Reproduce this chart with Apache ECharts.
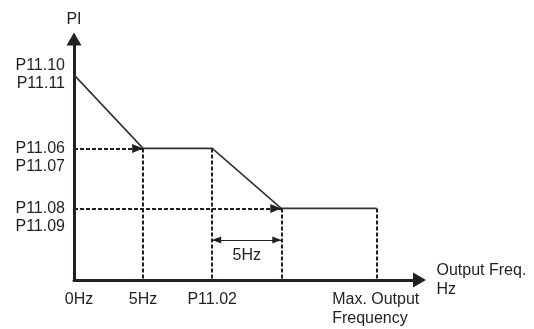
<!DOCTYPE html>
<html>
<head>
<meta charset="utf-8">
<script src="https://cdn.jsdelivr.net/npm/echarts@6/dist/echarts.min.js"></script>
<style>
  html, body { margin: 0; padding: 0; background: #fff; }
  #chart { width: 534px; height: 329px; }
</style>
</head>
<body>
<div id="chart"></div>
<script>
// tick positions (abstract units) and their labels
const freqTicks = [0, 5, 10, 21.9];
const freqLabels = ['0Hz', '5Hz', 'P11.02', 'Max. Output\nFrequency'];
const piTicks = [85.1, 54.6, 29.7];
const piLabels = ['P11.10\nP11.11', '\nP11.06\nP11.07', '\nP11.08\nP11.09'];

// the PI curve
const curveFreq = [0, 5, 10, 15, 21.9];
const curvePI = [85.1, 54.6, 54.6, 29.7, 29.7];

// 5Hz span marker
const spanFrom = 10, spanTo = 15, spanLevel = 16.6, spanText = '5Hz';

const ink = '#231f20';
const font = 'Liberation Sans, Arial, sans-serif';

var chart = echarts.init(document.getElementById('chart'));

var dotted = { color: ink, width: 2, type: [4, 2] };

// guide lines built from the curve corners
var guides = [];
// horizontal dotted arrows from the PI axis to the two corners
[1, 3].forEach(function (i) {
  guides.push([
    { coord: [0, curvePI[i]], symbol: 'none', lineStyle: dotted },
    { coord: [curveFreq[i], curvePI[i]], symbol: 'triangle', symbolSize: [9, 11], symbolOffset: [0, 5.5] }
  ]);
});
// vertical dotted drops to the frequency axis
[1, 2, 3, 4].forEach(function (i) {
  guides.push([
    { coord: [curveFreq[i], curvePI[i]], symbol: 'none', lineStyle: dotted },
    { coord: [curveFreq[i], 0], symbol: 'none' }
  ]);
});
// double arrow for the 5Hz span
guides.push([
  { coord: [spanFrom, spanLevel], symbol: 'triangle', symbolSize: [7, 9], symbolOffset: [0, 4.5],
    lineStyle: { color: ink, width: 1, type: 'solid' },
    label: { show: true, formatter: spanText, position: 'insideMiddleBottom', distance: 8,
             color: ink, fontSize: 16, fontFamily: font } },
  { coord: [spanTo, spanLevel], symbol: 'triangle', symbolSize: [7, 9], symbolOffset: [0, 4.5] }
]);

var option = {
  animation: false,
  backgroundColor: '#fff',
  grid: { left: 74, right: 114.5, top: 39, bottom: 49 },
  xAxis: {
    type: 'value', min: 0, max: 25,
    name: 'Output Freq.\nHz', nameLocation: 'end', nameGap: 17,
    nameTextStyle: { color: ink, fontSize: 16, fontFamily: font, lineHeight: 19,
                     align: 'left', verticalAlign: 'middle', padding: [15, 0, 0, 0] },
    axisLine: { show: true, symbol: ['none', 'triangle'], symbolSize: [15, 13],
                lineStyle: { color: ink, width: 3 } },
    axisTick: { show: false },
    splitLine: { show: false },
    axisLabel: {
      customValues: freqTicks, margin: 10, color: ink, fontSize: 16, fontFamily: font, lineHeight: 19,
      formatter: function (v) {
        var i = freqTicks.indexOf(v);
        if (i < 0) return '';
        if (i === 0) return '{s|' + freqLabels[i] + '}';
        if (i === freqTicks.length - 1) {
          return freqLabels[i].split('\n').map(function (t) { return '{m|' + t + '}'; }).join('\n');
        }
        return freqLabels[i];
      },
      rich: {
        s: { padding: [0, 0, 0, 10], color: ink, fontSize: 16, fontFamily: font },
        m: { width: 89, align: 'left', color: ink, fontSize: 16, fontFamily: font, lineHeight: 19 }
      }
    }
  },
  yAxis: {
    type: 'value', min: 0, max: 100,
    name: 'PI', nameLocation: 'end', nameGap: 11,
    nameTextStyle: { color: ink, fontSize: 16, fontFamily: font },
    axisLine: { show: true, symbol: ['none', 'triangle'], symbolSize: [15, 13],
                lineStyle: { color: ink, width: 3 } },
    axisTick: { show: false },
    splitLine: { show: false },
    axisLabel: {
      customValues: piTicks, margin: 9, color: ink, fontSize: 16, fontFamily: font, lineHeight: 18,
      formatter: function (v) {
        var i = piTicks.indexOf(v);
        return i < 0 ? '' : piLabels[i];
      }
    }
  },
  series: [{
    type: 'line',
    data: curveFreq.map(function (f, i) { return [f, curvePI[i]]; }),
    symbol: 'none',
    lineStyle: { color: '#333', width: 1.6 },
    z: 3,
    markLine: {
      silent: true,
      animation: false,
      label: { show: false },
      lineStyle: dotted,
      itemStyle: { color: ink },
      data: guides
    }
  }]
};

chart.setOption(option);
</script>
</body>
</html>
